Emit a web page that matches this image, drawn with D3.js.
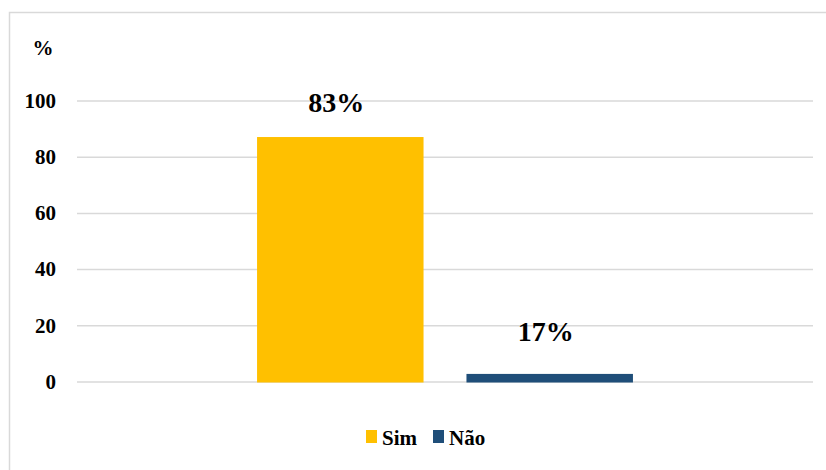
<!DOCTYPE html>
<html><head><meta charset="utf-8">
<script src="https://cdn.jsdelivr.net/npm/d3@7"></script>
<style>
html,body{margin:0;padding:0;background:#fff;}
svg{display:block;}
text{font-family:"Liberation Serif","Times New Roman",serif;font-weight:bold;fill:#000;}
</style></head>
<body>
<svg id="chart" width="826" height="470"></svg>
<script>
const categories = [""];
const seriesNames = ["Sim", "Não"];
const seriesValues = [87, 2.7];
const valueLabels = ["83%", "17%"];
const yTicks = [0, 20, 40, 60, 80, 100];
const colors = ["#FFC000", "#1F4E79"];

const svg = d3.select("#chart");
const W = 826, H = 470;
const m = {left: 77, right: 13, top: 100.5, bottom: 88.5};

// outer frame
svg.append("rect").attr("x", 9.5).attr("y", 12.5).attr("width", W + 20).attr("height", H + 20)
  .attr("fill", "none").attr("stroke", "#d9d9d9").attr("stroke-width", 1.5);

const y = d3.scaleLinear().domain([0, 100]).range([H - m.bottom, m.top]);
const x0 = d3.scaleBand().domain(categories).range([m.left, W - m.right]).paddingInner(0).paddingOuter(0.479);
const x1 = d3.scaleBand().domain(seriesNames).range([0, x0.bandwidth()]).paddingInner(0.205);

// gridlines
const yAxis = d3.axisLeft(y).tickValues(yTicks).tickSize(-(W - m.left - m.right)).tickPadding(21);
const gy = svg.append("g").attr("transform", `translate(${m.left},0)`).call(yAxis);
gy.select(".domain").remove();
gy.selectAll(".tick line").attr("stroke", "#d9d9d9").attr("stroke-width", 1.5);
gy.selectAll(".tick text").attr("font-size", 21).attr("dy", "0.32em")
  .style("font-family", "'Liberation Serif','Times New Roman',serif").style("font-weight", "bold").attr("fill", "#000");

// % unit label
svg.append("text").attr("x", 43).attr("y", 55).attr("text-anchor", "middle").attr("font-size", 21).text("%");

// bars
const g = svg.append("g").attr("transform", `translate(${x0(categories[0])},0)`);
g.selectAll("rect").data(seriesValues).join("rect")
  .attr("x", (d, i) => x1(seriesNames[i]))
  .attr("y", d => y(d))
  .attr("width", x1.bandwidth())
  .attr("height", d => y(0) - y(d) + 1)
  .attr("fill", (d, i) => colors[i]);

const labelOffsets = [25, 33];
g.selectAll("text.vl").data(seriesValues).join("text").attr("class", "vl")
  .attr("x", (d, i) => x1(seriesNames[i]) + x1.bandwidth() / 2 - 4)
  .attr("y", (d, i) => y(d) - labelOffsets[i])
  .attr("text-anchor", "middle").attr("font-size", 28)
  .text((d, i) => valueLabels[i]);

// legend
const legendX = [366, 433];
const lg = svg.append("g");
seriesNames.forEach((name, i) => {
  lg.append("rect").attr("x", legendX[i]).attr("y", 430).attr("width", 11).attr("height", 13).attr("fill", colors[i]);
  lg.append("text").attr("x", legendX[i] + 16).attr("y", 445).attr("font-size", 21).text(name);
});
</script>
</body></html>
